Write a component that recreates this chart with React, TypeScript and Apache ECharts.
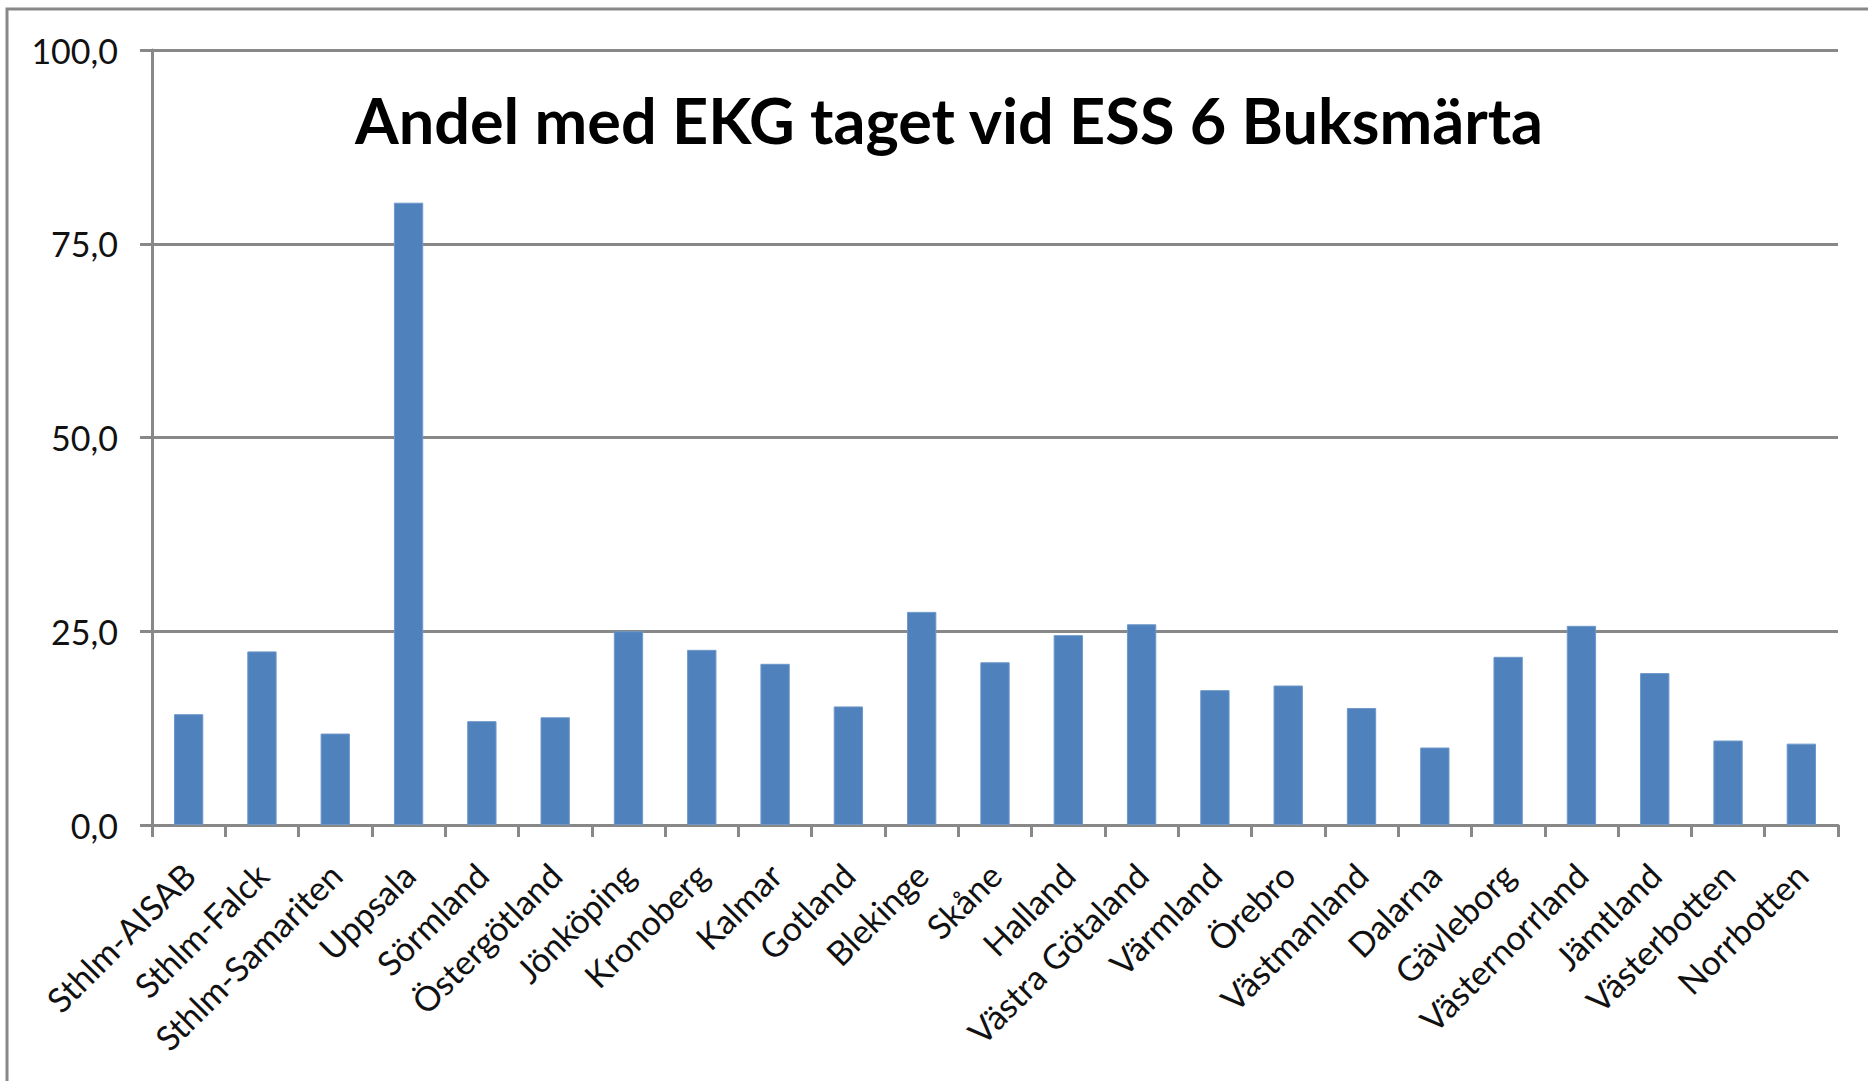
import React, { useEffect, useRef } from "react";
import * as echarts from "echarts";

const categories = [
  "Sthlm-AISAB",
  "Sthlm-Falck",
  "Sthlm-Samariten",
  "Uppsala",
  "Sörmland",
  "Östergötland",
  "Jönköping",
  "Kronoberg",
  "Kalmar",
  "Gotland",
  "Blekinge",
  "Skåne",
  "Halland",
  "Västra Götaland",
  "Värmland",
  "Örebro",
  "Västmanland",
  "Dalarna",
  "Gävleborg",
  "Västernorrland",
  "Jämtland",
  "Västerbotten",
  "Norrbotten",
];

const values = [
  14.3, 22.4, 11.8, 80.3, 13.4, 13.9, 25.0, 22.6, 20.8, 15.3, 27.5, 21.0,
  24.5, 25.9, 17.4, 18.0, 15.1, 10.0, 21.7, 25.7, 19.6, 10.9, 10.5,
];

const yMin = 0;
const yMax = 100;
const yStep = 25;

const chartTitle = "Andel med EKG taget vid ESS 6 Buksmärta";

export default function App() {
  const ref = useRef<HTMLDivElement>(null);

  useEffect(() => {
    if (!ref.current) return;
    const chart = echarts.init(ref.current, null, { renderer: "svg" });
    const gray = "#888888";
    chart.setOption({
      animation: false,
      backgroundColor: "#ffffff",
      grid: { left: 152, right: 30, top: 50, bottom: 256, containLabel: false },
      graphic: [
        {
          type: "rect",
          z: -1,
          shape: { x: 7, y: 9, width: 1900, height: 1100 },
          style: { fill: "none", stroke: gray, lineWidth: 3 },
        },
        {
          type: "text",
          x: 949,
          y: 119,
          z: 10,
          style: {
            text: chartTitle,
            font: "bold 63px Lato",
            fill: "#000000",
            textAlign: "center",
            textVerticalAlign: "middle",
          },
        },
      ],
      xAxis: {
        type: "category",
        data: categories,
        axisLine: { show: true, lineStyle: { color: gray, width: 3 } },
        axisTick: { show: true, length: 12, lineStyle: { color: gray, width: 3 } },
        axisLabel: {
          interval: 0,
          rotate: 45,
          margin: 44,
          fontSize: 34,
          fontFamily: "Lato",
          color: "#111111",
        },
        splitLine: { show: false },
      },
      yAxis: {
        type: "value",
        min: yMin,
        max: yMax,
        interval: yStep,
        axisLine: { show: true, lineStyle: { color: gray, width: 3 } },
        axisTick: { show: true, length: 12, lineStyle: { color: gray, width: 3 } },
        axisLabel: {
          margin: 34,
          fontSize: 34,
          fontFamily: "Lato",
          color: "#111111",
          formatter: (v: number) => v.toFixed(1).replace(".", ","),
        },
        splitLine: { show: true, lineStyle: { color: gray, width: 3 } },
      },
      series: [
        {
          type: "bar",
          data: values,
          barWidth: "40%",
          itemStyle: { color: "#4F81BD", borderColor: "#6f98c9", borderWidth: 1 },
        },
      ],
    });
    return () => chart.dispose();
  }, []);

  return (
    <div
      ref={ref}
      style={{
        position: "fixed",
        left: 0,
        top: 0,
        width: 1868,
        height: 1081,
        background: "#ffffff",
      }}
    />
  );
}
